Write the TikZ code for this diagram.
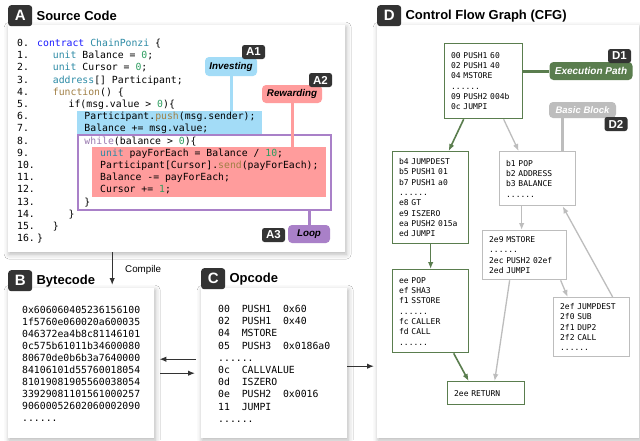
\documentclass[tikz,border=0pt]{standalone}
\usepackage{fontspec}
\setmainfont{Liberation Sans}
\setsansfont{Liberation Sans}
\setmonofont{DejaVu Sans Mono}
\usetikzlibrary{arrows.meta, positioning, shadows.blur, calc}

\definecolor{tagdark}{HTML}{333333}
\definecolor{investblue}{HTML}{A3DCF7}
\definecolor{rewardred}{HTML}{FF9C9C}
\definecolor{looppurple}{HTML}{A980C8}
\definecolor{pathgreen}{HTML}{5A7D4E}
\definecolor{blockgrey}{HTML}{BDBDBD}
\definecolor{kwblue}{HTML}{1A1AFF}
\definecolor{tyteal}{HTML}{2B8AA5}
\definecolor{fnbrown}{HTML}{A07F45}
\definecolor{numgreen}{HTML}{2E9E60}
\definecolor{ctlpurple}{HTML}{9A7AB0}

% syntax colouring for the contract listing
\newcommand{\kw}[1]{\textcolor{kwblue}{#1}}
\newcommand{\ty}[1]{\textcolor{tyteal}{#1}}
\newcommand{\fn}[1]{\textcolor{fnbrown}{#1}}
\newcommand{\nm}[1]{\textcolor{numgreen}{#1}}
\newcommand{\ctl}[1]{\textcolor{ctlpurple}{#1}}
\newcommand{\elide}{......}
\newcommand{\codefont}{\ttfamily\fontsize{9.8}{12}\selectfont}
\newcommand{\cfgfont}{\ttfamily\fontsize{8}{10.3}\selectfont}

\tikzset{
  panel/.style={fill=white, anchor=north west, inner sep=0pt,
    blur shadow={shadow xshift=1pt, shadow yshift=-2pt, shadow blur radius=5pt, shadow opacity=30}},
  lettertag/.style={fill=tagdark, text=white, rounded corners=3pt, inner sep=0pt,
    minimum width=24, minimum height=21, anchor=north west, font=\bfseries\fontsize{15}{15}\selectfont},
  paneltitle/.style={inner sep=0pt, font=\bfseries\fontsize{13}{13}\selectfont},
  smalltag/.style={fill=tagdark, text=white, rounded corners=2.5pt, inner sep=0pt,
    minimum width=23, minimum height=14, font=\bfseries\fontsize{11.5}{11.5}\selectfont},
  pill/.style={rounded corners=4pt, inner sep=0pt, font=\bfseries\itshape\fontsize{9.8}{10}\selectfont},
  tagline/.style={line width=3pt},
  codeline/.style={anchor=base west, inner sep=0pt, font=\codefont},
  flow/.style={-{Latex[length=7pt,width=5.5pt]}, line width=1.3pt, draw=tagdark},
  blk/.style={draw, line width=1.3pt, anchor=north west, align=left, inner xsep=6.5pt, inner ysep=0pt, font=\cfgfont},
  greenblk/.style={blk, draw=pathgreen},
  greyblk/.style={blk, draw=blockgrey},
  gedge/.style={-{Latex[length=7pt,width=5.5pt]}, line width=1.6pt, draw=pathgreen},
  pedge/.style={-{Latex[length=7pt,width=5.5pt]}, line width=1.3pt, draw=blockgrey}
}

\begin{document}
\begin{tikzpicture}[x=1pt, y=-1pt]
  \useasboundingbox (0,0) rectangle (640,440);
  \fill[white] (0,0) rectangle (640,440);

  % the four panels
  \node[panel, minimum width=337, minimum height=227] (srcpanel) at (8,25) {};
  \node[panel, minimum width=146, minimum height=150] (bytepanel) at (8,288) {};
  \node[panel, minimum width=146, minimum height=150] (opcpanel) at (201,288) {};
  \node[panel, minimum width=262, minimum height=413] (cfgpanel) at (377,25) {};

  % panel headings
  \node[lettertag] (tagA) at (8,5) {A};
  \node[paneltitle, right=4pt of tagA] (titleA) {Source Code};
  \node[lettertag] (tagB) at (8,270) {B};
  \node[paneltitle, right=4pt of tagB] (titleB) {Bytecode};
  \node[lettertag] (tagC) at (201,268) {C};
  \node[paneltitle, right=4pt of tagC] (titleC) {Opcode};
  \node[lettertag] (tagD) at (377,5) {D};
  \node[paneltitle, right=4pt of tagD] (titleD) {Control Flow Graph (CFG)};

  % highlighted regions of the contract
  \node[fill=investblue, anchor=north west, inner sep=0pt, minimum width=185, minimum height=23] (investhl) at (77,111) {};
  \node[fill=rewardred, anchor=north west, inner sep=0pt, minimum width=234, minimum height=50] (rewardhl) at (92,147) {};
  \node[draw=looppurple, line width=1.5pt, anchor=north west, inner sep=0pt, minimum width=253, minimum height=75] (loophl) at (77,134) {};

  % contract listing: line/indent/code
  \foreach \n/\lvl/\src in {
      0/0/{\kw{contract} \ty{ChainPonzi} \{},
      1/1/{\ty{unit} Balance = \nm{0};},
      2/1/{\ty{unit} Cursor = \nm{0};},
      3/1/{\ty{address}[] Participant;},
      4/1/{\fn{function}() \{},
      5/2/{if(msg.value > \nm{0})\{},
      6/3/{Participant.\fn{push}(msg.sender);},
      7/3/{Balance += msg.value;},
      8/3/{\ctl{while}(balance > \nm{0})\{},
      9/4/{\ty{unit} payForEach = Balance / \nm{10};},
      10/4/{Participant[Cursor].\fn{send}(payForEach);},
      11/4/{Balance -= payForEach;},
      12/4/{Cursor += \nm{1};},
      13/3/{\}},
      14/2/{\}},
      15/1/{\}},
      16/0/{\}}} {
    \node[codeline] (num\n) at ({17},{46.5+12.2*\n}) {\n.};
    \node[codeline] (src\n) at ({37+15.75*\lvl},{46.5+12.2*\n}) {\src};
  }

  % A1 - A3 tags
  \node[pill, fill=investblue, minimum width=52, minimum height=19] (investtag) at (231,66.5) {Investing};
  \draw[tagline, investblue] (investtag.south) -- (investtag.south |- investhl.north);
  \node[smalltag] (tagA1) at (253.5,52) {A1};
  \node[pill, fill=rewardred, minimum width=60, minimum height=18] (rewardtag) at (292,94) {Rewarding};
  \draw[tagline, rewardred] (rewardtag.south) -- (rewardtag.south |- rewardhl.north);
  \node[smalltag] (tagA2) at (320.5,80) {A2};
  \node[pill, fill=looppurple, minimum width=42, minimum height=18] (looptag) at (309,234) {Loop};
  \draw[tagline, looppurple] (loophl.south -| looptag.north) -- (looptag.north);
  \node[smalltag] (tagA3) at (273.5,235) {A3};

  % compile step
  \coordinate (compilefrom) at ([xshift=-64.5]srcpanel.south);
  \draw[flow, shorten >=3pt] (compilefrom) -- (compilefrom |- bytepanel.north)
    node[midway, right=9pt, font=\fontsize{9.8}{10}\selectfont] {Compile};

  % bytecode
  \foreach \row [count=\i from 0] in {0x606060405236156100, 1f5760e060020a600035,
      046372ea4b8c81146101, 0c575b61011b34600080, 80670de0b6b3a7640000,
      84106101d55760018054, 81019081905560038054, 33929081101561000257,
      90600052602060002090, \elide} {
    \node[codeline] (hex\i) at ({22},{313.5+12*\i}) {\row};
  }

  % opcode
  \foreach \row [count=\i from 0] in {00~~PUSH1~~0x60, 02~~PUSH1~~0x40, 04~~MSTORE,
      05~~PUSH3~~0x0186a0, \elide, 0c~~CALLVALUE, 0d~~ISZERO, 0e~~PUSH2~~0x0016,
      11~~JUMPI, \elide} {
    \node[codeline] (op\i) at ({218},{312.5+12.2*\i}) {\row};
  }

  % links between B, C and D
  \draw[flow, shorten <=5pt, shorten >=5pt] ([yshift=4]opcpanel.west) -- ([yshift=4]bytepanel.east);
  \draw[flow, shorten <=6pt, shorten >=6pt] ([yshift=-10]bytepanel.east) -- ([yshift=-10]opcpanel.west);
  \draw[flow, shorten >=3pt] ([yshift=-3]opcpanel.east) -- ([yshift=-134.5]cfgpanel.west);

  % basic blocks
  \node[greenblk, text width=65, minimum height=75] (n0) at (444,43)
    {00 PUSH1 60\\02 PUSH1 40\\04 MSTORE\\\elide\\09 PUSH2 004b\\0c JUMPI};
  \node[greenblk, text width=63, minimum height=92] (n1) at (392,151)
    {b4 JUMPDEST\\b5 PUSH1 01\\b7 PUSH1 a0\\\elide\\e8 GT\\e9 ISZERO\\ea PUSH2 015a\\ed JUMPI};
  \node[greyblk, text width=63, minimum height=54] (n2) at (499,151)
    {b1 POP\\b2 ADDRESS\\b3 BALANCE\\\elide};
  \node[greyblk, text width=71, minimum height=49] (n3) at (482,230)
    {2e9 MSTORE\\\elide\\2ec PUSH2 02ef\\2ed JUMPI};
  \node[greenblk, text width=63, minimum height=83] (n4) at (392,269)
    {ee POP\\ef SHA3\\f1 SSTORE\\\elide\\fc CALLER\\fd CALL\\\elide};
  \node[greenblk, text width=64, minimum height=23] (n5) at (447,381) {2ee RETURN};
  \node[greyblk, text width=63, minimum height=59] (n6) at (553,297)
    {2ef JUMPDEST\\2f0 SUB\\2f1 DUP2\\2f2 CALL\\\elide};

  % control flow edges
  \draw[gedge] ([xshift=-20]n0.south) -- ([xshift=18]n1.north);
  \draw[pedge] ([xshift=20]n0.south) -- ([xshift=-19]n2.north);
  \draw[gedge] (n1.south) -- (n4.north);
  \draw[pedge] ([xshift=-16]n2.south) -- ([xshift=-3]n3.north);
  \draw[pedge] ([xshift=-15]n3.south) -- ([xshift=8.5]n5.north);
  \draw[gedge] ([xshift=23]n4.south) -- ([xshift=-17.5]n5.north);
  \draw[pedge] ([xshift=36]n3.south) -- ([xshift=-24]n6.north);
  \draw[pedge] ([xshift=21]n6.north) -- ([xshift=25]n2.south);

  % D1 and D2 tags
  \node[pill, fill=pathgreen, text=white, minimum width=83, minimum height=18,
    font=\bfseries\itshape\fontsize{10}{10}\selectfont] (pathtag) at (591,71) {Execution Path};
  \draw[tagline, pathgreen] (n0.east |- pathtag.west) -- (pathtag.west);
  \node[smalltag] (tagD1) at (619.5,56) {D1};
  \node[pill, fill=blockgrey, text=white, minimum width=67, minimum height=16,
    font=\bfseries\itshape\fontsize{9.5}{10}\selectfont] (blocktag) at (582.5,110) {Basic Block};
  \coordinate (blockfoot) at ([xshift=-20.5]blocktag.south);
  \draw[tagline, blockgrey] (blockfoot) -- (blockfoot |- n2.north);
  \node[smalltag] (tagD2) at (616,124) {D2};
\end{tikzpicture}
\end{document}
